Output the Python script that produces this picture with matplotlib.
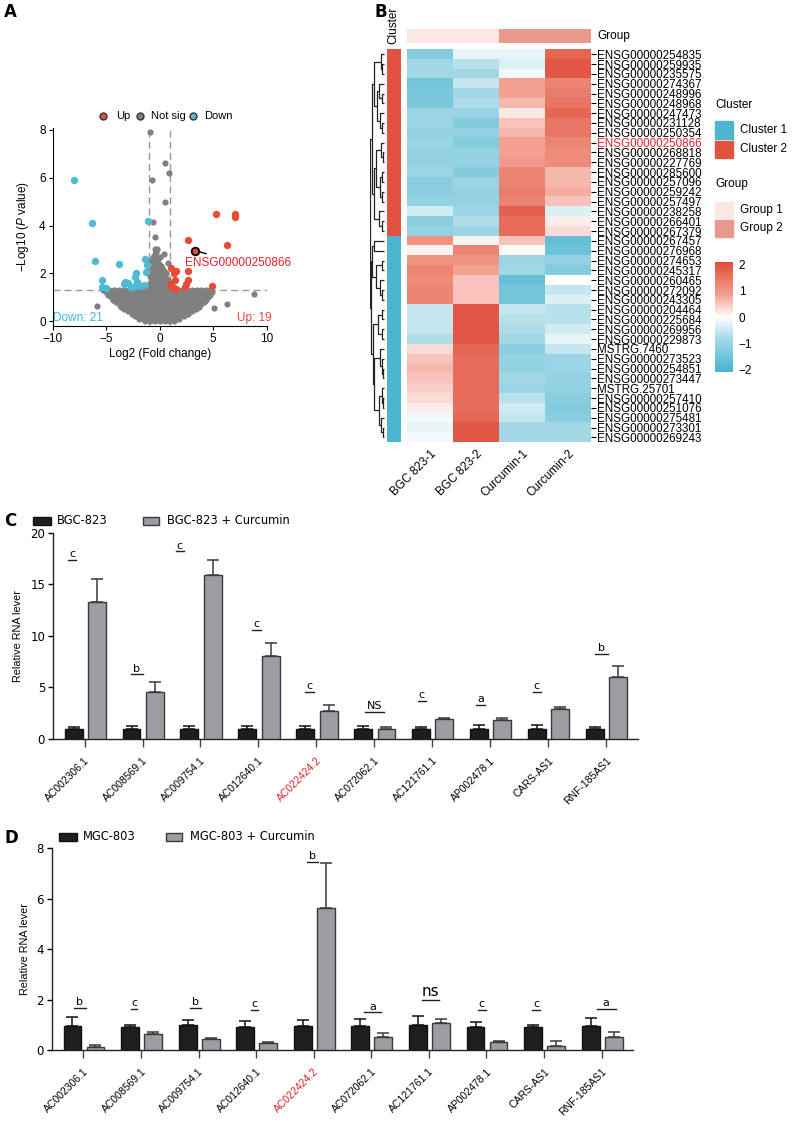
import numpy as np
import matplotlib
matplotlib.use('Agg')
import matplotlib.pyplot as plt
from matplotlib.colors import LinearSegmentedColormap, Normalize
from matplotlib.cm import ScalarMappable
from matplotlib.patches import Rectangle
from matplotlib.lines import Line2D

plt.rcParams['font.family'] = ['Liberation Sans', 'DejaVu Sans']
plt.rcParams['mathtext.fontset'] = 'custom'
plt.rcParams['mathtext.rm'] = 'Liberation Sans'
plt.rcParams['mathtext.it'] = 'Liberation Sans:italic'

W, H = 793, 1129
RED = '#E64B35'
BLUE = '#4DBBD5'

# ---------------- A: volcano data ----------------
up_x = [5.3, 7.0, 7.0, 2.6, 6.25, 3.3, 1.1, 1.5, 1.3, 2.6, 2.6, 2.45, 2.4, 4.85, 1.05, 1.1, 1.3, 1.55, 1.45]
up_y = [4.5, 4.5, 4.35, 3.4, 3.2, 2.95, 2.2, 2.1, 2.0, 2.1, 1.72, 1.55, 1.42, 1.45, 1.55, 1.45, 1.38, 1.35, 1.7]
down_x = [-8.0, -6.3, -6.0, -3.8, -1.05, -1.4, -1.25, -1.2, -5.4, -5.4, -5.0,
          -3.2, -2.95, -2.3, -2.1, -2.35, -1.85, -1.5, -3.35, -2.7, -2.2]
down_y = [5.9, 4.1, 2.5, 2.4, 4.2, 2.6, 2.05, 2.35, 1.7, 1.44, 1.37,
          1.65, 1.59, 1.85, 1.64, 1.46, 1.46, 1.5, 1.57, 1.43, 2.0]
grey_out_x = [-0.93, -0.7, 0.5, 0.87, 0.5, -0.6, -0.47, 0.4, -5.9, 8.8, 6.3, 5.1, -0.9, -0.85, 0.75]
grey_out_y = [7.9, 5.9, 6.6, 6.2, 5.0, 4.15, 3.5, 2.8, 0.65, 1.15, 0.7, 0.55, 2.5, 2.2, 2.45]
# dense non-significant cloud, one row of x values per -log10(p) level
cloud_rows = {
    0.0: [-1.35, -0.9, -0.45, 0.0, 0.45, 0.9, 1.3],
    0.1: [-1.9, -1.5, -1.1, -0.7, -0.3, 0.15, 0.6, 1.05, 1.5, 1.85],
    0.2: [-2.3, -1.85, -1.35, -0.9, -0.45, 0.0, 0.45, 0.9, 1.4, 1.85, 2.3],
    0.3: [-2.6, -2.2, -1.75, -1.3, -0.85, -0.4, 0.05, 0.5, 0.95, 1.4, 1.85, 2.25, 2.6],
    0.4: [-3.0, -2.5, -2.0, -1.55, -1.1, -0.6, -0.15, 0.3, 0.75, 1.2, 1.7, 2.15, 2.6, 3.0],
    0.5: [-3.3, -2.85, -2.4, -1.95, -1.5, -1.05, -0.6, -0.15, 0.3, 0.75, 1.2, 1.65, 2.1, 2.55, 3.0, 3.35],
    0.6: [-3.6, -3.1, -2.65, -2.2, -1.7, -1.25, -0.8, -0.3, 0.15, 0.6, 1.05, 1.5, 2.0, 2.45, 2.9, 3.35, 3.7],
    0.7: [-3.85, -3.4, -2.95, -2.5, -2.0, -1.55, -1.1, -0.6, -0.15, 0.3, 0.75, 1.2, 1.7, 2.15, 2.6, 3.05,
          3.5, 3.9],
    0.8: [-4.1, -3.6, -3.15, -2.7, -2.25, -1.8, -1.3, -0.85, -0.4, 0.05, 0.5, 0.95, 1.45, 1.9,
          2.35, 2.8, 3.25, 3.7, 4.1],
    0.9: [-4.35, -3.9, -3.4, -2.95, -2.5, -2.05, -1.55, -1.1, -0.65, -0.2, 0.25, 0.7, 1.15, 1.6, 2.05,
          2.5, 2.95, 3.45, 3.9, 4.3],
    1.0: [-4.55, -4.1, -3.65, -3.2, -2.7, -2.25, -1.8, -1.35, -0.9, -0.45, 0.0, 0.45, 0.9, 1.35,
          1.8, 2.3, 2.75, 3.2, 3.65, 4.1, 4.5],
    1.1: [-4.8, -4.3, -3.85, -3.4, -2.95, -2.45, -2.0, -1.55, -1.1, -0.65, -0.2, 0.25, 0.7, 1.15, 1.6,
          2.05, 2.5, 2.95, 3.4, 3.85, 4.3, 4.7],
    1.2: [-5.0, -4.5, -4.05, -3.6, -3.1, -2.65, -2.2, -1.75, -1.3, -0.85, -0.4, 0.05, 0.5, 0.95,
          1.4, 1.85, 2.3, 2.75, 3.2, 3.65, 4.1, 4.55, 4.85],
    1.28: [-5.3, -4.75, -4.3, -3.85, -3.35, -2.9, -2.45, -1.95, -1.5, -1.05, -0.6, -0.15, 0.3, 0.75,
           1.2, 1.65, 2.1, 2.55, 3.0, 3.45, 3.9, 4.35, 4.7],
    1.4: [-0.95, -0.5, -0.05, 0.4, 0.85],
    1.5: [-0.75, -0.3, 0.15, 0.6],
    1.6: [-0.9, -0.45, 0.0, 0.45, 0.9],
    1.7: [-0.65, -0.2, 0.3, 0.75],
    1.8: [-0.8, -0.35, 0.1, 0.55],
    1.9: [-0.95, -0.5, -0.1, 0.35],
    2.0: [-0.7, -0.25, 0.2, 0.6],
    2.1: [-0.45, 0.0, 0.4],
    2.2: [-0.6, -0.2, 0.25],
    2.3: [-0.35, 0.1],
    2.4: [-0.55, -0.1],
    2.6: [-0.5, -0.2],
    2.7: [-0.6, 0.0],
    2.8: [-0.4],
    2.9: [-0.3],
    3.0: [-0.45, -0.25],
}
highlight = (3.3, 2.95)

# ---------------- B: heatmap data ----------------
genes_b = ['ENSG00000254835', 'ENSG00000259935', 'ENSG00000235575', 'ENSG00000274367', 'ENSG00000248996',
           'ENSG00000248968', 'ENSG00000247473', 'ENSG00000231128', 'ENSG00000250354', 'ENSG00000250866',
           'ENSG00000268818', 'ENSG00000227769', 'ENSG00000285600', 'ENSG00000257096', 'ENSG00000259242',
           'ENSG00000257497', 'ENSG00000238258', 'ENSG00000266401', 'ENSG00000267379', 'ENSG00000267457',
           'ENSG00000276968', 'ENSG00000274653', 'ENSG00000245317', 'ENSG00000260465', 'ENSG00000272092',
           'ENSG00000243305', 'ENSG00000204464', 'ENSG00000225684', 'ENSG00000269956', 'ENSG00000229873',
           'MSTRG.7460', 'ENSG00000273523', 'ENSG00000254851', 'ENSG00000273447', 'MSTRG.25701',
           'ENSG00000257410', 'ENSG00000251076', 'ENSG00000275481', 'ENSG00000273301', 'ENSG00000269243']
samples = ['BGC 823-1', 'BGC 823-2', 'Curcumin-1', 'Curcumin-2']
bgc_1 = [-1.2, -0.8, -0.8, -1.4, -1.3, -1.3, -0.9, -0.9, -1.0, -0.9, -1.0, -1.0, -0.9, -1.1, -1.1, -1.0, -0.4,
         -1.1, -1.0, 1.0, 0.1, 1.0, 1.2, 1.1, 1.2, 1.2, -0.5, -0.5, -0.5, -0.7, 0.3, 0.5, 0.6, 0.5, 0.4, 0.3,
         0.15, -0.1, -0.2, -0.1]
bgc_2 = [-0.2, -0.6, -0.8, -0.5, -0.8, -0.7, -0.9, -1.2, -1.0, -1.2, -1.0, -1.0, -1.2, -0.9, -1.0, -1.0, -0.9,
         -0.7, -0.9, 0.1, 1.2, 1.0, 0.8, 0.5, 0.5, 0.5, 1.8, 1.8, 1.8, 1.8, 1.6, 1.5, 1.5, 1.5, 1.5, 1.5,
         1.5, 1.6, 1.8, 1.8]
cur_1 = [-0.2, -0.3, -0.1, 0.8, 0.8, 0.6, 0.2, 0.5, 0.6, 0.8, 0.8, 0.9, 1.2, 1.2, 1.3, 1.2, 1.7, 1.5, 1.5,
         0.5, 0.05, -0.9, -0.8, -1.6, -1.4, -1.4, -0.5, -0.6, -0.7, -0.8, -1.1, -1.0, -1.0, -0.8, -0.9,
         -0.6, -0.4, -0.5, -0.8, -0.8]
cur_2 = [1.6, 1.8, 1.8, 1.2, 1.3, 1.4, 1.6, 1.4, 1.4, 1.2, 1.1, 1.1, 0.6, 0.6, 0.7, 0.5, -0.3, 0.15, 0.3,
         -1.6, -1.5, -1.0, -1.2, 0.0, -0.5, -0.3, -0.6, -0.6, -0.4, -0.2, -0.5, -0.9, -0.9, -1.0, -1.0,
         -1.1, -1.2, -1.1, -0.8, -0.8]
cluster_of_row = [2] * 19 + [1] * 21
group_of_col = [1, 1, 2, 2]
# row dendrogram: (height, left, right), leaves are row indices
row_tree = (10.0,
            (8.5,
             (7.0, (2.5, 0, (1.5, 1, 2)),
              (5.5, (3.5, 3, (1.5, 4, 5)), (3.0, 6, (1.5, 7, 8)))),
             (7.5, (6.0, (2.5, 9, (1.0, 10, 11)), (3.0, (1.5, 12, 13), (1.5, 14, 15))),
              (4.0, 16, (2.0, 17, 18)))),
            (9.2,
             (8.5, (7.5, 19, 20), (6.0, (2.0, 21, 22), (3.0, 23, (1.5, 24, 25)))),
             (8.0, (4.5, (1.5, 26, 27), (2.0, 28, 29)),
              (7.0, (3.0, 30, (1.5, 31, (1.0, 32, 33))),
               (4.0, (2.0, 34, (1.0, 35, 36)), (2.5, 37, (1.0, 38, 39)))))))

# ---------------- C / D: qPCR data ----------------
lnc = ['AC002306.1', 'AC008569.1', 'AC009754.1', 'AC012640.1', 'AC022424.2',
       'AC072062.1', 'AC121761.1', 'AP002478.1', 'CARS-AS1', 'RNF-185AS1']
ctrl_c = [0.95, 0.95, 0.95, 0.95, 0.95, 0.95, 0.95, 0.95, 0.95, 0.95]
ctrl_c_err = [0.25, 0.35, 0.3, 0.3, 0.3, 0.3, 0.2, 0.45, 0.45, 0.2]
cur_c = [13.3, 4.6, 15.9, 8.05, 2.75, 0.95, 1.9, 1.8, 2.9, 6.05]
cur_c_err = [2.2, 0.95, 1.5, 1.25, 0.55, 0.25, 0.15, 0.25, 0.25, 1.05]
sig_c = ['c', 'b', 'c', 'c', 'c', 'NS', 'c', 'a', 'c', 'b']
sig_c_y = [17.4, 6.27, 18.2, 10.6, 4.6, 2.6, 3.72, 3.33, 4.59, 8.25]
sig_c_dx = [-0.21, -0.1, -0.36, -0.03, -0.12, 0.0, -0.18, -0.17, -0.2, -0.08]
sig_c_w = [0.14, 0.2, 0.14, 0.15, 0.15, 0.33, 0.14, 0.15, 0.14, 0.22]

ctrl_d = [0.95, 0.93, 0.98, 0.93, 0.95, 0.95, 0.98, 0.93, 0.93, 0.95]
ctrl_d_err = [0.35, 0.07, 0.21, 0.21, 0.24, 0.27, 0.38, 0.17, 0.07, 0.31]
cur_d = [0.1, 0.62, 0.42, 0.26, 5.65, 0.5, 1.06, 0.3, 0.17, 0.52]
cur_d_err = [0.08, 0.08, 0.07, 0.05, 1.75, 0.16, 0.16, 0.07, 0.2, 0.18]
sig_d = ['b', 'c', 'b', 'c', 'b', 'a', 'ns', 'c', 'c', 'a']
sig_d_y = [1.68, 1.63, 1.68, 1.59, 7.45, 1.49, 1.98, 1.59, 1.59, 1.63]
sig_d_dx = [-0.06, -0.12, -0.06, -0.03, -0.02, 0.02, 0.03, -0.08, -0.14, 0.08]
sig_d_w = [0.22, 0.11, 0.19, 0.12, 0.19, 0.3, 0.29, 0.13, 0.13, 0.33]


def box(x0, y0, x1, y1):
    # pixel box (top-left origin) -> figure fraction rect
    return [x0 / W, 1 - y1 / H, (x1 - x0) / W, (y1 - y0) / H]


def fpt(x, y):
    return x / W, 1 - y / H


fig = plt.figure(figsize=(W / 100, H / 100), dpi=100)

for lab, (px, py) in zip('ABCD', [(4, 12), (375, 12), (4, 521), (4, 838)]):
    fig.text(*fpt(px, py), lab, fontsize=12, fontweight='bold', family='DejaVu Sans', va='center')

# ================= A =================
ax = fig.add_axes(box(52.7, 127.6, 266.7, 325.8))
gx, gy = [], []
for yv, xs in cloud_rows.items():
    gx += xs
    gy += [yv] * len(xs)
ax.scatter(gx + grey_out_x, gy + grey_out_y, s=20, color='#808080', lw=0, zorder=2)
ax.scatter(down_x, down_y, s=28, color=BLUE, lw=0, zorder=3)
ax.scatter(up_x, up_y, s=28, color=RED, lw=0, zorder=3)
ax.scatter([highlight[0]], [highlight[1]], s=30, color=RED, edgecolor='black', lw=1.3, zorder=4)
for xv in (-1, 1):
    ax.axvline(xv, color='#999999', ls=(0, (5, 3)), lw=1, zorder=1)
ax.axhline(-np.log10(0.05), color='#999999', ls=(0, (5, 3)), lw=1, zorder=1)
ax.annotate('ENSG00000250866', xy=highlight, xytext=(2.35, 2.45), color='#E0202C', fontsize=8.5,
            va='center', arrowprops=dict(arrowstyle='-', color='black', lw=1, shrinkA=0, shrinkB=3))
ax.text(-9.95, 0.12, 'Down: 21', color='#3BB8D6', fontsize=8.5, va='center')
ax.text(10.5, 0.12, 'Up: 19', color='#E8453A', fontsize=8.5, va='center', ha='right')
ax.set_xlim(-10, 10)
ax.set_ylim(-0.2, 8.1)
ax.set_xticks([-10, -5, 0, 5, 10])
ax.set_yticks([0, 2, 4, 6, 8])
for s in ('top', 'right'):
    ax.spines[s].set_visible(False)
for s in ('left', 'bottom'):
    ax.spines[s].set_linewidth(0.8)
ax.tick_params(labelsize=8.5, length=3, width=0.8, pad=2)
ax.set_xlabel('Log2 (Fold change)', fontsize=8.5, labelpad=2)
ax.set_ylabel('\u2212Log10 ($\\mathit{P}$ value)', fontsize=8.5, labelpad=6)
for mx, tx, lab, col in [(103, 116, 'Up', RED), (140, 151, 'Not sig', '#7d7d7d'), (193, 204, 'Down', BLUE)]:
    fig.add_artist(Line2D([mx / W], [1 - 116 / H], transform=fig.transFigure, marker='o', ms=5,
                          mfc=col, mec='#333333', mew=1, ls='none'))
    fig.text(tx / W, 1 - 116 / H, lab, fontsize=8, va='center')

# ================= B =================
cmap = LinearSegmentedColormap.from_list(
    'bwr_npg', [(0, '#46B4D0'), (0.3, '#A3D8E6'), (0.5, '#FFFFFF'), (0.7, '#F3A293'), (1, '#E04A36')])
clus_col = {1: '#4DB6CE', 2: '#E25240'}
grp_col = {1: '#FBE8E4', 2: '#E8998B'}
data = np.column_stack([bgc_1, bgc_2, cur_1, cur_2])

hm = fig.add_axes(box(407, 49.3, 591, 442.3))
hm.imshow(data, cmap=cmap, vmin=-2, vmax=2, aspect='auto', interpolation='nearest')
hm.set_xlim(-0.5, 3.5)
hm.set_ylim(39.5, -0.5)
hm.yaxis.tick_right()
hm.set_yticks(range(len(genes_b)))
hm.set_yticklabels(genes_b, fontsize=8.4)
hm.tick_params(axis='y', length=3.5, width=0.8, pad=0.5)
hm.get_yticklabels()[9].set_color('#E0202C')
hm.set_xticks(range(4))
hm.set_xticklabels(samples, rotation=45, ha='right', va='top', rotation_mode='anchor', fontsize=8.5)
hm.tick_params(axis='x', length=0, pad=4)
for s in hm.spines.values():
    s.set_visible(False)

gax = fig.add_axes(box(407, 29.3, 591, 43.3))
gax.imshow([[g - 1 for g in group_of_col]],
           cmap=LinearSegmentedColormap.from_list('g', [grp_col[1], grp_col[2]]),
           aspect='auto', vmin=0, vmax=1)
gax.axis('off')
fig.text(*fpt(597, 36), 'Group', fontsize=8.5, va='center')

cax_c = fig.add_axes(box(386.7, 49.3, 400.7, 442.3))
cax_c.imshow(np.array(cluster_of_row)[:, None] - 1,
             cmap=LinearSegmentedColormap.from_list('c', [clus_col[1], clus_col[2]]),
             aspect='auto', vmin=0, vmax=1)
cax_c.axis('off')
fig.text(*fpt(393, 44), 'Cluster', rotation=90, fontsize=8.5, ha='center', va='bottom')

dax = fig.add_axes(box(370, 49.3, 386, 442.3))


def draw_tree(node):
    if isinstance(node, int):
        return node, 0.0
    h, left, right = node
    yl, hl = draw_tree(left)
    yr, hr = draw_tree(right)
    dax.plot([hl, h, h, hr], [yl, yl, yr, yr], color='#222222', lw=0.9, solid_capstyle='butt')
    return (yl + yr) / 2, h


draw_tree(row_tree)
dax.set_xlim(10.2, -1.2)
dax.set_ylim(39.5, -0.5)
dax.axis('off')

# legends
fig.text(*fpt(715, 105), 'Cluster', fontsize=8.5, va='center')
for (y0, y1), c, lab in [((120.7, 139.3), clus_col[1], 'Cluster 1'), ((140.7, 158.3), clus_col[2], 'Cluster 2')]:
    fig.add_artist(Rectangle(fpt(715, y1), 18 / W, (y1 - y0) / H, transform=fig.transFigure, color=c))
    fig.text(*fpt(740, (y0 + y1) / 2), lab, fontsize=8.5, va='center')
fig.text(*fpt(715, 184), 'Group', fontsize=8.5, va='center')
for (y0, y1), c, lab in [((201.7, 218.3), grp_col[1], 'Group 1'), ((220, 236.7), grp_col[2], 'Group 2')]:
    fig.add_artist(Rectangle(fpt(715, y1), 18 / W, (y1 - y0) / H, transform=fig.transFigure, color=c))
    fig.text(*fpt(740, (y0 + y1) / 2), lab, fontsize=8.5, va='center')
cbax = fig.add_axes(box(715, 262, 733, 372))
cb = fig.colorbar(ScalarMappable(Normalize(-2.1, 2.1), cmap), cax=cbax, ticks=[-2, -1, 0, 1, 2])
cb.outline.set_visible(False)
cb.ax.tick_params(length=0, labelsize=8.5, pad=4)


# ================= C, D =================
def bar_panel(rect, ctrl, ctrl_err, trt, trt_err, sig, sig_y, sig_dx, sig_w, ymax, yticks, sig_sizes):
    ax = fig.add_axes(rect)
    x = np.arange(len(lnc))
    bw = 0.31
    n = len(lnc)
    ax.bar(x - 0.19, ctrl, bw, color='#1e1e1e', edgecolor='#111111', lw=1, zorder=3)
    ax.bar(x + 0.21, trt, bw, color='#9b9da3', edgecolor='#3a3a3a', lw=1, zorder=3)
    ax.errorbar(x - 0.19, ctrl, yerr=[np.zeros(n), ctrl_err], fmt='none', ecolor='#111111',
                elinewidth=1.1, capsize=4.5, capthick=1.1, zorder=2)
    ax.errorbar(x + 0.21, trt, yerr=[np.zeros(n), trt_err], fmt='none', ecolor='#3a3a3a',
                elinewidth=1.1, capsize=4.5, capthick=1.1, zorder=2)
    for i in range(n):
        cx = x[i] + sig_dx[i]
        ax.plot([cx - sig_w[i] / 2, cx + sig_w[i] / 2], [sig_y[i], sig_y[i]], color='#222222', lw=1)
        ax.annotate(sig[i], (cx, sig_y[i]), xytext=(0, 0.5), textcoords='offset points',
                    ha='center', va='bottom', fontsize=sig_sizes[i], family='DejaVu Sans')
    ax.set_xlim(-0.55, 9.55)
    ax.set_ylim(0, ymax)
    ax.set_yticks(yticks)
    ax.set_xticks(x)
    ax.set_xticklabels(lnc, rotation=45, ha='right', va='top', rotation_mode='anchor', fontsize=7.5)
    ax.get_xticklabels()[4].set_color('#E0202C')
    for t in ax.get_yticklabels():
        t.set_family('DejaVu Sans')
    ax.tick_params(axis='y', labelsize=8.5, length=3.5, width=1, pad=2)
    ax.tick_params(axis='x', length=6, width=1, pad=6, color='#444444')
    for s in ('top', 'right'):
        ax.spines[s].set_visible(False)
    for s in ('left', 'bottom'):
        ax.spines[s].set_linewidth(1)
        ax.spines[s].set_color('#222222')
    ax.set_ylabel('Relative RNA lever', fontsize=7.8, labelpad=5)
    return ax


bar_panel(box(52.7, 532.7, 638, 739), ctrl_c, ctrl_c_err, cur_c, cur_c_err, sig_c, sig_c_y, sig_c_dx,
          sig_c_w, 20, [0, 5, 10, 15, 20], [8] * 10)
bar_panel(box(51.7, 848.3, 633.3, 1050), ctrl_d, ctrl_d_err, cur_d, cur_d_err, sig_d, sig_d_y, sig_d_dx,
          sig_d_w, 8, [0, 2, 4, 6, 8], [8, 8, 8, 8, 8, 8, 11, 8, 8, 8])

# bar legends
for (bx, gx0, ty, lab1, lab2) in [(33, 143, 521, 'BGC-823', 'BGC-823 + Curcumin'),
                                   (59, 166, 837, 'MGC-803', 'MGC-803 + Curcumin')]:
    fig.add_artist(Rectangle(fpt(bx, ty + 4), 18 / W, 8 / H, transform=fig.transFigure,
                             facecolor='#1e1e1e', edgecolor='#111111', lw=1))
    fig.text(*fpt(bx + 24, ty), lab1, fontsize=8.3, family='DejaVu Sans', va='center')
    fig.add_artist(Rectangle(fpt(gx0, ty + 4), 16 / W, 8 / H, transform=fig.transFigure,
                             facecolor='#9b9da3', edgecolor='#3a3a3a', lw=1))
    fig.text(*fpt(gx0 + 24, ty), lab2, fontsize=8.3, family='DejaVu Sans', va='center')

fig.savefig('out.png', dpi=100)
